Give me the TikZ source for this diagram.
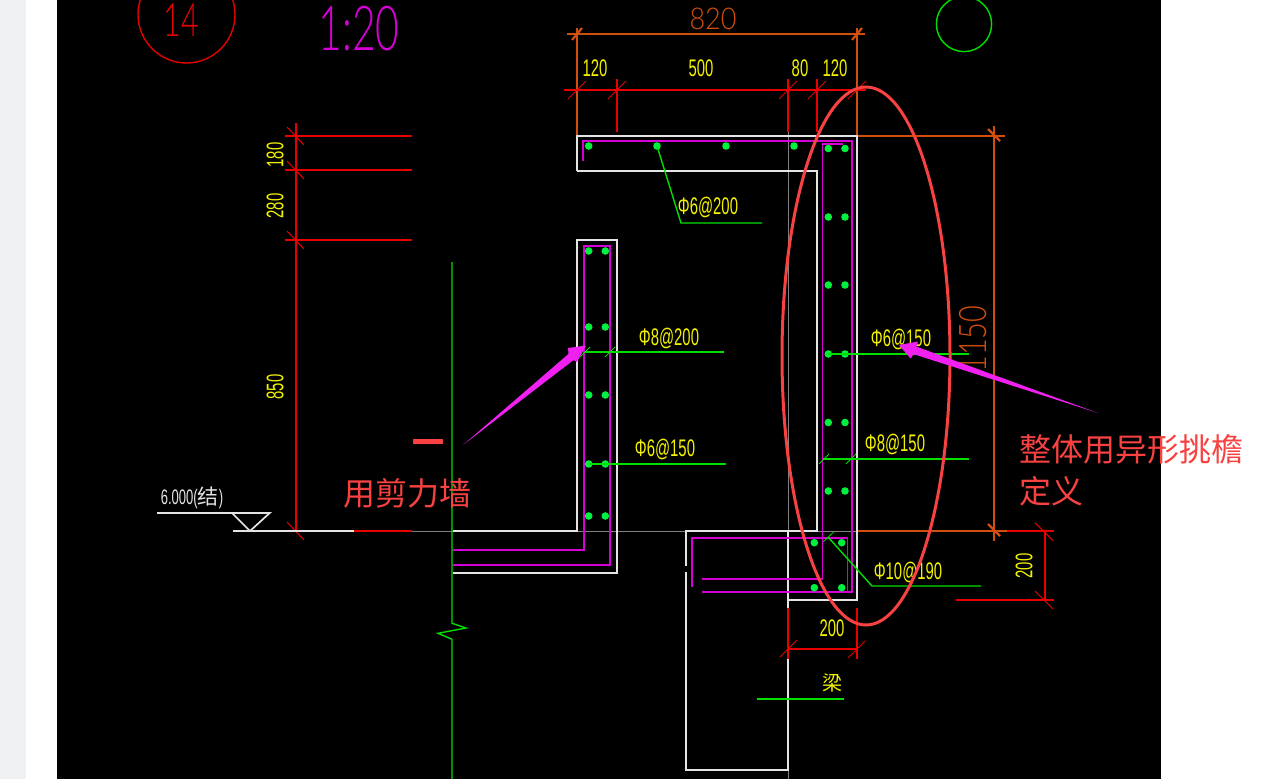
\documentclass[tikz,border=0pt]{standalone}
\usepackage{fontspec}
\newfontfamily\cadfont[FakeStretch=0.62]{Liberation Sans}
\newfontfamily\cadwide[FakeStretch=0.9]{Lato Light}
\newfontfamily\cadmid[FakeStretch=0.76]{Lato Light}
\newfontfamily\cadthin[FakeStretch=0.66]{Lato Light}
\newfontfamily\cjkfont{Noto Sans CJK SC}
\definecolor{sidegray}{HTML}{EFF0F2}
\definecolor{cadyellow}{HTML}{F2F200}
\definecolor{cadgreen}{HTML}{00E000}
\definecolor{barcolor}{HTML}{00F040}
\definecolor{cadred}{HTML}{E80000}
\definecolor{cadorange}{HTML}{D24E0C}
\definecolor{cadmagenta}{HTML}{D400D4}
\definecolor{cadwhite}{HTML}{E4E4E4}
\definecolor{notered}{HTML}{F84242}
\definecolor{notemagenta}{HTML}{F020F0}
\tikzset{
  dimline/.style={cadred,line width=1.4pt},
  extline/.style={cadorange,line width=1.4pt},
  tickmark/.style={cadred,line width=1pt},
  bigtick/.style={cadorange,line width=2.2pt},
  wall/.style={cadwhite,line width=1.7pt},
  rebar/.style={cadmagenta,line width=1.3pt},
  leader/.style={cadgreen,line width=1.4pt},
  dimtext/.style={text=cadyellow,inner sep=0pt,font=\cadfont\fontsize{24}{24}\selectfont},
  notetext/.style={text=notered,inner sep=0pt,anchor=west,font=\cjkfont\fontsize{32}{32}\selectfont}
}
\begin{document}
\begin{tikzpicture}[x=1pt,y=-1pt]
\clip (0,0) rectangle (1275,779);
\fill[white] (0,0) rectangle (1275,779);
\fill[sidegray] (0,0) rectangle (26,779);
\fill[black] (57,0) rectangle (1161,779);

% Title
\draw[red!90!black,line width=1.4pt] (186.5,14.5) circle (48.5);
\draw[cadgreen,line width=1.4pt] (964,24) circle (27.6);
\node[text=red!90!black,inner sep=0pt,font=\cadthin\fontsize{46}{46}\selectfont] (detailno) at (181,20) {14};
\node[text=cadmagenta,inner sep=0pt,font=\cadthin\fontsize{62}{62}\selectfont] (scale) at (359,29) {1:20};

% Gray axis lines
\draw[gray,line width=1pt] (788,132) -- (788,779);
\draw[gray,line width=1pt] (412,531) -- (857,531);

% Left dimensions
\draw[dimline] (296,123) -- (296,531);
\foreach \y in {136,170,240} {
  \draw[dimline] (285,\y) -- (412,\y);
}
\foreach \y in {136,170,240,531} {
  \draw[tickmark] (287,\y-9) -- (304,\y+9);
}
\node[dimtext,rotate=90] (dimA) at (275,155) {180};
\node[dimtext,rotate=90] (dimB) at (275,206) {280};
\node[dimtext,rotate=90] (dimC) at (275,387) {850};

% Level mark
\draw[wall] (157,513) -- (269.7,513) -- (250,531) -- (232,513);
\draw[wall] (233,531) -- (354,531);
\draw[cadred,line width=1.6pt] (354,531) -- (412,531);
\node[text=cadwhite,inner sep=0pt,font=\cadfont\fontsize{21}{21}\selectfont] (level) at (192,498) {6.000(\cjkfont 结\cadfont)};

% Top dimensions
\draw[extline] (577,28) -- (577,136);
\draw[extline] (857,28) -- (857,136);
\draw[extline] (567,34) -- (865,34);
\draw[bigtick] (572,40) -- (582,28);
\draw[bigtick] (852,40) -- (862,28);
\node[text=cadorange,inner sep=0pt,font=\cadwide\fontsize{30}{30}\selectfont] (dimTotal) at (713,19) {820};
\draw[dimline] (564,90) -- (866,90);
\foreach \x in {617,788,817} {
  \draw[dimline] (\x,79) -- (\x,132);
}
\foreach \x in {577,617,788,817,857} {
  \draw[tickmark] (\x-9,99) -- (\x+9,81);
}
\node[dimtext] (dimD) at (595,68) {120};
\node[dimtext] (dimE) at (701,68) {500};
\node[dimtext] (dimF) at (800,68) {80};
\node[dimtext] (dimG) at (835,68) {120};

% Right dimensions
\draw[extline] (857,136) -- (1005,136);
\draw[extline] (994,126) -- (994,541);
\draw[extline] (857,531) -- (1007,531);
\draw[bigtick] (988,129) -- (1000,141);
\draw[bigtick] (988,524) -- (1000,536);
\node[text=cadorange,inner sep=0pt,rotate=90,font=\cadmid\fontsize{38}{38}\selectfont] (dimHeight) at (973.5,339) {1150};
\draw[dimline] (1007,531) -- (1054,531);
\draw[dimline] (956,600) -- (1054,600);
\draw[dimline] (1045,531) -- (1045,600);
\draw[tickmark] (1035,522.7) -- (1053,540.7);
\draw[tickmark] (1035,591) -- (1053,609);
\node[dimtext,rotate=90] (dimH) at (1024,566) {200};

% Bottom dimension
\draw[dimline,line width=1.6pt] (788,608) -- (788,659);
\draw[dimline] (857,608) -- (857,659);
\draw[dimline] (788,649) -- (857,649);
\draw[tickmark] (780,657) -- (797,640);
\draw[tickmark] (848,658) -- (865,641);
\node[dimtext] (dimI) at (832,628) {200};

% Concrete outline
\draw[wall] (577,171) -- (577,136) -- (857,136) -- (857,600) -- (788,600) -- (788,608);
\draw[wall] (788,659) -- (788,770) -- (686,770) -- (686,572);
\draw[wall] (686,566) -- (686,531) -- (817,531) -- (817,171) -- (577,171);
\draw[wall] (788,531) -- (788,600);
\draw[wall] (453,531) -- (577,531) -- (577,240) -- (617,240) -- (617,573) -- (453,573);

% Rebar
\draw[rebar] (453,550) -- (584,550) -- (584,246) -- (610,246) -- (610,565) -- (453,565);
\draw[rebar] (583,160.7) -- (583,141) -- (852,141) -- (852,592) -- (702,592);
\draw[rebar] (842.7,144) -- (822.5,144) -- (822.5,579) -- (702,579);
\draw[rebar] (692,586.7) -- (692,538) -- (847.3,538) -- (847.3,592);

% Green wall line
\draw[leader] (452,262) -- (452,623.3) -- (466,628) -- (438,633.3) -- (452,639.3) -- (452,779);

% Bars
\foreach \y in {251,327,395,464,516} {
  \fill[barcolor] (588.7,\y) circle (3.8);
  \fill[barcolor] (605.3,\y) circle (3.8);
}
\foreach \x in {588.7,657,726,794} {
  \fill[barcolor] (\x,146) circle (3.8);
}
\foreach \y in {148.5,217,285,354,422.5,491} {
  \fill[barcolor] (828.3,\y) circle (3.8);
  \fill[barcolor] (845,\y) circle (3.8);
}
\foreach \x in {814.3,841.7} {
  \fill[barcolor] (\x,542.7) circle (3.8);
  \fill[barcolor] (\x,587.7) circle (3.8);
}

% Leaders
\draw[leader] (657,146) -- (681,223) -- (762,223);
\draw[leader] (585,352) -- (724,352);
\draw[leader] (589,464) -- (726,464);
\draw[leader] (828,354) -- (969,354);
\draw[leader] (823,459) -- (969,459);
\draw[leader] (828,537) -- (872,586) -- (981,586);
\draw[leader] (757,699) -- (844,699);
\foreach \x in {585,610} {
  \draw[leader,line width=0.8pt] (\x-5,357) -- (\x+5,347);
}
\foreach \x in {824,851} {
  \draw[leader,line width=0.8pt] (\x-5,464) -- (\x+5,454);
}
\draw[leader,line width=0.8pt] (823.3,541.7) -- (834,531.7);
\node[dimtext] (rebarA) at (708,207) {Φ6@200};
\node[dimtext] (rebarB) at (669,338) {Φ8@200};
\node[dimtext] (rebarC) at (665,449) {Φ6@150};
\node[dimtext] (rebarD) at (901,339) {Φ6@150};
\node[dimtext] (rebarE) at (895,444) {Φ8@150};
\node[dimtext] (rebarF) at (908,572) {Φ10@190};
\node[text=cadyellow,inner sep=0pt,font=\cjkfont\fontsize{20}{20}\selectfont] (beam) at (832,683) {梁};

% Notes
\draw[notered,line width=3pt] (866,356) circle [x radius=84,y radius=269];
\coordinate (tailA) at (463,445);
\coordinate (tipA) at (586,345.5);
\coordinate (tailB) at (1098,413);
\coordinate (tipB) at (899,345);
\fill[notemagenta] (tailA) -- (568.5,353.9) -- (568,348) -- (tipA) -- (577,362) -- (573.5,360.1) -- cycle;
\fill[notemagenta] (tailB) -- (916.3,346.6) -- (918,341.5) -- (tipB) -- (910.5,358.5) -- (913.7,354.2) -- cycle;
\node[notetext] (noteA) at (343,493) {用剪力墙};
\node[notetext] (noteB) at (1019,449) {整体用异形挑檐};
\node[notetext] (noteC) at (1019,491) {定义};
\node[text=notered,inner sep=0pt,font=\cjkfont\bfseries\fontsize{32}{32}\selectfont] (noteD) at (428,447) {一};
\end{tikzpicture}
\end{document}
